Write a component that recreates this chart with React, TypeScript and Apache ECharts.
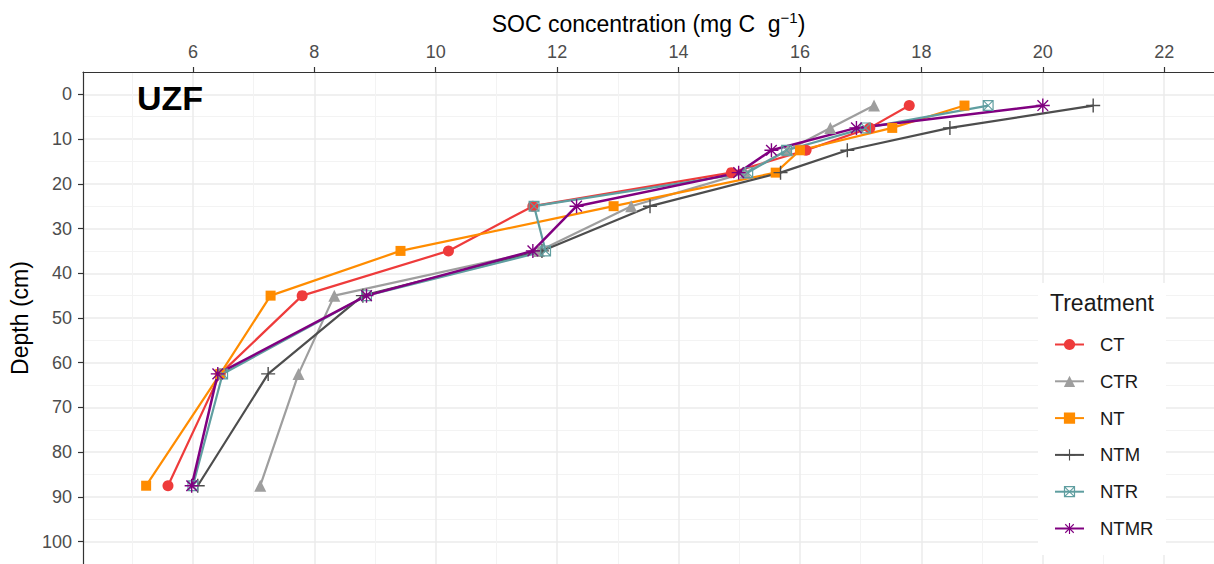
import React, { useEffect, useRef } from "react";
import * as echarts from "echarts";

const depths = [2.5, 7.5, 12.5, 17.5, 25, 35, 45, 62.5, 87.5];
const treatments = ["CT", "CTR", "NT", "NTM", "NTR", "NTMR"];
const socCT = [17.8, 17.15, 16.1, 14.87, 11.6, 10.21, 7.8, 6.45, 5.59];
const socCTR = [17.22, 16.5, 15.8, 15.1, 13.22, 11.7, 8.33, 7.74, 7.11];
const socNT = [18.71, 17.52, 16.0, 15.6, 12.93, 9.42, 7.28, 6.45, 5.23];
const socNTM = [20.83, 18.47, 16.78, 15.68, 13.53, 11.75, 8.8, 7.24, 6.08];
const socNTR = [19.1, 17.08, 15.78, 15.14, 11.62, 11.81, 8.86, 6.49, 6.0];
const socNTMR = [20.0, 16.93, 15.53, 14.99, 12.32, 11.6, 8.86, 6.41, 5.98];

const xTicks = [6, 8, 10, 12, 14, 16, 18, 20, 22];
const xMinorTicks = [5, 7, 9, 11, 13, 15, 17, 19, 21];
const yTicks = [0, 10, 20, 30, 40, 50, 60, 70, 80, 90, 100];
const yMinorTicks = [5, 15, 25, 35, 45, 55, 65, 75, 85, 95];

const PLUS =
  "path://M45,0L55,0L55,45L100,45L100,55L55,55L55,100L45,100L45,55L0,55L0,45L45,45Z";
const ASTERISK =
  "path://M45,0L55,0L55,45L100,45L100,55L55,55L55,100L45,100L45,55L0,55L0,45L45,45Z" +
  "M15.5,8.5L91.5,84.5L84.5,91.5L8.5,15.5Z" +
  "M84.5,8.5L91.5,15.5L15.5,91.5L8.5,84.5Z";
const BOXX =
  "path://M0,0L100,0L100,100L0,100Z" +
  "M11,11L11,89L89,89L89,11Z" +
  "M14,7L93,86L86,93L7,14Z" +
  "M86,7L93,14L14,93L7,86Z";

const FONT = "Liberation Sans, Arial, Helvetica, sans-serif";

export default function App() {
  const ref = useRef<HTMLDivElement>(null);

  useEffect(() => {
    if (!ref.current) return;
    const chart = echarts.init(ref.current, undefined, { renderer: "svg" });

    const seriesDefs = [
      { name: "CT", vals: socCT, color: "#EE3B3B", symbol: "circle", size: 11, width: 2.2 },
      { name: "CTR", vals: socCTR, color: "#9E9E9E", symbol: "triangle", size: 12, width: 2.2 },
      { name: "NT", vals: socNT, color: "#FF8C00", symbol: "rect", size: 10, width: 2.2 },
      { name: "NTM", vals: socNTM, color: "#4D4D4D", symbol: PLUS, size: 14, width: 2.2 },
      { name: "NTR", vals: socNTR, color: "#5F9EA0", symbol: BOXX, size: 11, width: 2.2 },
      { name: "NTMR", vals: socNTMR, color: "#800080", symbol: ASTERISK, size: 14, width: 2.5 },
    ];

    const series = seriesDefs.map((s) => ({
      name: s.name,
      type: "line",
      xAxisIndex: 0,
      yAxisIndex: 0,
      data: s.vals.map((v, i) => [v, depths[i]]),
      symbol: s.symbol,
      symbolSize: s.size,
      showAllSymbol: true,
      color: s.color,
      lineStyle: { color: s.color, width: s.width },
      itemStyle: { color: s.color },
      emphasis: { disabled: true },
    }));

    const xMin = 4.19;
    const xMax = 22.82;
    const yMin = -5;
    const yMax = 105;

    chart.setOption({
      animation: false,
      textStyle: { fontFamily: FONT },
      grid: { left: 83, top: 72, width: 1131, height: 495 },
      xAxis: [
        {
          type: "value",
          position: "top",
          min: xMin,
          max: xMax,
          name: "SOC concentration (mg C  g{sup|\u22121})",
          nameLocation: "middle",
          nameGap: 33,
          nameTextStyle: {
            fontSize: 23,
            color: "#000",
            fontFamily: FONT,
            lineHeight: 28,
            rich: {
              sup: { fontSize: 15, verticalAlign: "top", lineHeight: 28, color: "#000", fontFamily: FONT },
            },
          },
          axisLine: { show: true, onZero: false, lineStyle: { color: "#333333", width: 1.2 } },
          axisTick: { show: true, length: 5, customValues: xTicks, lineStyle: { color: "#333333", width: 1.2 } },
          axisLabel: { customValues: xTicks, color: "#4D4D4D", fontSize: 18, margin: 11 },
          splitLine: { show: true, lineStyle: { color: "#EBEBEB", width: 1.5 } },
        },
        {
          type: "value",
          position: "top",
          min: xMin,
          max: xMax,
          axisLine: { show: false, onZero: false },
          axisTick: { show: false, customValues: xMinorTicks },
          axisLabel: { show: false, customValues: xMinorTicks },
          splitLine: { show: true, lineStyle: { color: "#F3F3F3", width: 1 } },
        },
      ],
      yAxis: [
        {
          type: "value",
          inverse: true,
          min: yMin,
          max: yMax,
          name: "Depth (cm)",
          nameLocation: "middle",
          nameGap: 46,
          nameTextStyle: { fontSize: 23, color: "#000", fontFamily: FONT },
          axisLine: { show: true, onZero: false, lineStyle: { color: "#333333", width: 1.2 } },
          axisTick: { show: true, length: 5, customValues: yTicks, lineStyle: { color: "#333333", width: 1.2 } },
          axisLabel: { customValues: yTicks, color: "#4D4D4D", fontSize: 18, margin: 11 },
          splitLine: { show: true, lineStyle: { color: "#EBEBEB", width: 1.5 } },
        },
        {
          type: "value",
          inverse: true,
          min: yMin,
          max: yMax,
          position: "left",
          axisLine: { show: false, onZero: false },
          axisTick: { show: false, customValues: yMinorTicks },
          axisLabel: { show: false, customValues: yMinorTicks },
          splitLine: { show: true, lineStyle: { color: "#F3F3F3", width: 1 } },
        },
      ],
      legend: {
        orient: "vertical",
        left: 1054,
        top: 335,
        padding: 0,
        itemWidth: 29,
        itemHeight: 14,
        itemGap: 17.8,
        selectedMode: false,
        data: treatments,
        textStyle: { fontSize: 18.5, color: "#1A1A1A", fontFamily: FONT, padding: [0, 0, 0, 11] },
      },
      graphic: [
        {
          type: "rect",
          z: 1,
          shape: { x: 1038, y: 283, width: 128, height: 272 },
          style: { fill: "#FFFFFF" },
          silent: true,
        },
        {
          type: "text",
          z: 5,
          x: 1050,
          y: 303,
          style: { text: "Treatment", fontSize: 23, fontFamily: FONT, fill: "#1A1A1A", verticalAlign: "middle" },
          silent: true,
        },
        {
          type: "text",
          z: 10,
          x: 137,
          y: 98,
          style: { text: "UZF", fontSize: 34, fontWeight: "bold", fontFamily: FONT, fill: "#000", verticalAlign: "middle" },
          silent: true,
        },
      ],
      series,
    });

    return () => chart.dispose();
  }, []);

  return (
    <div
      ref={ref}
      style={{ position: "fixed", left: 0, top: 0, width: 1214, height: 564, background: "#fff" }}
    />
  );
}
